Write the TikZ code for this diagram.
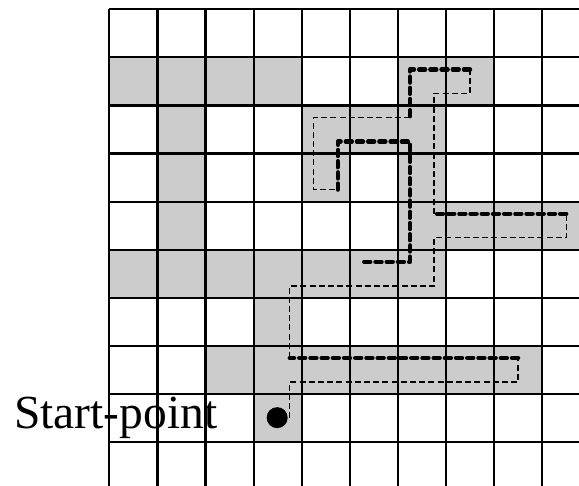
\documentclass[tikz,border=0pt]{standalone}
\usepackage{fontspec}
\setmainfont{Liberation Serif}
\definecolor{cellgray}{RGB}{204,204,204}
\tikzset{
  cellfill/.style={fill=cellgray},
  gridline/.style={line width=2.2pt, black},
  fwdpath/.style={line width=4.2pt, dash pattern=on 6.2pt off 5pt, line cap=round, line join=round},
  backpath/.style={line width=1.4pt, dash pattern=on 6pt off 3.2pt},
  startlabel/.style={inner sep=0pt, font=\fontsize{47.5}{57}\selectfont}
}
\begin{document}
\begin{tikzpicture}[x=1pt,y=-1pt]
\useasboundingbox (0,0) rectangle (579,486);
\clip (0,0) rectangle (579,486);
\fill[white] (0,0) rectangle (579,486);
\begin{scope}[xshift=109.3pt, yshift=-9.3pt, x=48.1pt, y=-48.1pt]
  % shaded cells
  \foreach \c/\r in {0/1,1/1,2/1,3/1,6/1,7/1,
                     1/2,4/2,5/2,6/2,
                     1/3,4/3,6/3,
                     1/4,6/4,7/4,8/4,9/4,
                     0/5,1/5,2/5,3/5,4/5,5/5,6/5,
                     3/6,
                     2/7,3/7,4/7,5/7,6/7,7/7,8/7,
                     3/8}
    \fill[cellfill] (\c,\r) rectangle ++(1,1);
  % grid
  \foreach \i in {0,...,10} {
    \draw[gridline] (\i,0) -- (\i,10);
    \draw[gridline] (0,\i) -- (10,\i);
  }
  % return (thin dashed) segments
  \draw[backpath] (3.75,8.5) -- (3.75,7.75) -- (8.5,7.75) -- (8.5,7.25);
  \draw[backpath] (3.75,7.25) -- (3.75,5.75) -- (6.75,5.75) -- (6.75,4.75) -- (9.5,4.75) -- (9.5,4.25);
  \draw[backpath] (6.75,4.25) -- (6.75,1.75) -- (7.5,1.75) -- (7.5,1.25);
  \draw[backpath] (6.25,2.25) -- (4.25,2.25) -- (4.25,3.75) -- (4.75,3.75);
  % forward (thick dashed) segments
  \draw[fwdpath] (8.5,7.25) -- (3.75,7.25);
  \draw[fwdpath] (9.5,4.25) -- (6.75,4.25);
  \draw[fwdpath] (7.5,1.25) -- (6.25,1.25) -- (6.25,2.25);
  \draw[fwdpath] (4.75,3.75) -- (4.75,2.75) -- (6.25,2.75) -- (6.25,5.25) -- (5.25,5.25);
  % start point
  \node[circle, fill=black, minimum size=21pt, inner sep=0pt] (startdot) at (3.49,8.49) {};
\end{scope}
\node[startlabel, anchor=base west] (startlabel) at (14,428.3) {Start-point};
\end{tikzpicture}
\end{document}
